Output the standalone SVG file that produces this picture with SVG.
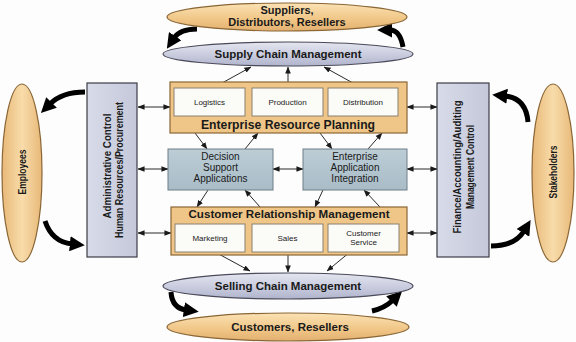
<svg xmlns="http://www.w3.org/2000/svg" width="576" height="342" viewBox="0 0 576 342">
<defs>
<style>
.t{font-family:"Liberation Sans",Arial,sans-serif;fill:#1a1a1a}
.b{font-weight:bold}
.ln{stroke:#2a2a2a;stroke-width:1;fill:none}
.big{stroke:#000;stroke-width:5;fill:none}
.sub{fill:#fbfbf8;stroke:#8a8070;stroke-width:1}
.app{fill:url(#gBlue);stroke:#6f7f88;stroke-width:1}
.side{fill:url(#gSide);stroke:#3c3c48;stroke-width:1.2}
.org{fill:#efc688;stroke:#8a6636;stroke-width:1.2}
</style>
<linearGradient id="gOr" x1="0" y1="0" x2="0" y2="1">
<stop offset="0" stop-color="#fbe2b4"/><stop offset="0.6" stop-color="#f0c585"/><stop offset="1" stop-color="#e2b070"/>
</linearGradient>
<linearGradient id="gOrV" x1="0" y1="0" x2="1" y2="0">
<stop offset="0" stop-color="#e8b878"/><stop offset="0.5" stop-color="#f8dcaa"/><stop offset="1" stop-color="#e8b878"/>
</linearGradient>
<linearGradient id="gLav" x1="0" y1="0" x2="0" y2="1">
<stop offset="0" stop-color="#e4e6f0"/><stop offset="0.6" stop-color="#c6c9dc"/><stop offset="1" stop-color="#b0b4cc"/>
</linearGradient>
<linearGradient id="gBlue" x1="0" y1="0" x2="0" y2="1">
<stop offset="0" stop-color="#bccdd6"/><stop offset="1" stop-color="#a9bcc7"/>
</linearGradient>
<linearGradient id="gSide" x1="0" y1="0" x2="1" y2="0">
<stop offset="0" stop-color="#d8dbe8"/><stop offset="1" stop-color="#c4c8da"/>
</linearGradient>
<marker id="a" viewBox="0 0 8 8" refX="7.5" refY="4" markerWidth="7" markerHeight="7" markerUnits="userSpaceOnUse" orient="auto-start-reverse">
<path d="M0,0.8 L8,4 L0,7.2 z" fill="#1a1a1a"/>
</marker>
<marker id="A" viewBox="0 0 14 14" refX="2" refY="7" markerWidth="15" markerHeight="15" markerUnits="userSpaceOnUse" orient="auto">
<path d="M0,0 L14,7 L0,14 z" fill="#000"/>
</marker>
</defs>
<rect width="576" height="342" fill="#fdfdfd"/>

<g id="connectors">
<line class="ln" x1="213" y1="88" x2="251" y2="67" marker-end="url(#a)"/>
<line class="ln" x1="288" y1="88" x2="288" y2="67" marker-end="url(#a)"/>
<line class="ln" x1="362" y1="88" x2="324" y2="67" marker-end="url(#a)"/>
<line class="ln" x1="195" y1="133" x2="207" y2="149" marker-end="url(#a)"/>
<line class="ln" x1="245" y1="149" x2="258" y2="133" marker-end="url(#a)"/>
<line class="ln" x1="320" y1="133" x2="332" y2="149" marker-end="url(#a)"/>
<line class="ln" x1="368" y1="149" x2="382" y2="133" marker-end="url(#a)"/>
<line class="ln" x1="208" y1="190" x2="197" y2="207" marker-end="url(#a)"/>
<line class="ln" x1="260" y1="207" x2="245" y2="190" marker-end="url(#a)"/>
<line class="ln" x1="323" y1="190" x2="315" y2="207" marker-end="url(#a)"/>
<line class="ln" x1="380" y1="207" x2="364" y2="190" marker-end="url(#a)"/>
<line class="ln" x1="215" y1="252" x2="250" y2="271" marker-end="url(#a)"/>
<line class="ln" x1="288" y1="252" x2="288" y2="272" marker-end="url(#a)"/>
<line class="ln" x1="350" y1="252" x2="327" y2="271" marker-end="url(#a)"/>
<line class="ln" x1="138" y1="107" x2="170" y2="107" marker-start="url(#a)" marker-end="url(#a)"/>
<line class="ln" x1="407" y1="107" x2="437" y2="107" marker-start="url(#a)" marker-end="url(#a)"/>
<line class="ln" x1="138" y1="169" x2="168" y2="169" marker-start="url(#a)" marker-end="url(#a)"/>
<line class="ln" x1="273" y1="169" x2="303" y2="169" marker-start="url(#a)" marker-end="url(#a)"/>
<line class="ln" x1="407" y1="169" x2="437" y2="169" marker-start="url(#a)" marker-end="url(#a)"/>
<line class="ln" x1="138" y1="233" x2="171" y2="233" marker-start="url(#a)" marker-end="url(#a)"/>
<line class="ln" x1="407" y1="233" x2="437" y2="233" marker-start="url(#a)" marker-end="url(#a)"/>
<path class="big" d="M197,29 Q180,29 174,38" marker-end="url(#A)"/>
<path class="big" d="M403,47 Q400,30 390,30" marker-end="url(#A)"/>
<path class="big" d="M85,92 Q62,92 50,104" marker-end="url(#A)"/>
<path class="big" d="M45,221 Q52,242 72,244" marker-end="url(#A)"/>
<path class="big" d="M528,122 Q526,98 505,96" marker-end="url(#A)"/>
<path class="big" d="M491,246 Q515,246 524,231" marker-end="url(#A)"/>
<path class="big" d="M171,292 Q172,308 186,310" marker-end="url(#A)"/>
<path class="big" d="M372,311 Q385,308 393,300" marker-end="url(#A)"/>
</g>

<g id="suppliers">
<ellipse cx="287" cy="17" rx="120" ry="14" fill="url(#gOr)" stroke="#8a6636" stroke-width="1.2"/>
<text class="t b" x="287" y="14" font-size="11" text-anchor="middle">Suppliers,</text>
<text class="t b" x="287" y="25.5" font-size="11" text-anchor="middle">Distributors, Resellers</text>
</g>

<g id="supply-chain">
<ellipse cx="288" cy="54" rx="125" ry="12" fill="url(#gLav)" stroke="#4a4a5a" stroke-width="1.2"/>
<text class="t b" x="288" y="58" font-size="11.5" text-anchor="middle">Supply Chain Management</text>
</g>

<g id="erp">
<rect class="org" x="170" y="82" width="237" height="51"/>
<rect class="sub" x="174" y="88" width="71" height="28"/>
<rect class="sub" x="252" y="88" width="71" height="28"/>
<rect class="sub" x="328" y="88" width="70" height="28"/>
<text class="t" x="209.5" y="104.5" font-size="8" text-anchor="middle">Logistics</text>
<text class="t" x="287.5" y="104.5" font-size="8" text-anchor="middle">Production</text>
<text class="t" x="363" y="104.5" font-size="8" text-anchor="middle">Distribution</text>
<text class="t b" x="288" y="129" font-size="12.2" text-anchor="middle">Enterprise Resource Planning</text>
</g>

<g id="dsa">
<rect class="app" x="168" y="149" width="105" height="41"/>
<text class="t" x="220.5" y="160" font-size="10" text-anchor="middle">Decision</text>
<text class="t" x="220.5" y="171" font-size="10" text-anchor="middle">Support</text>
<text class="t" x="220.5" y="182" font-size="10" text-anchor="middle">Applications</text>
</g>

<g id="eai">
<rect class="app" x="303" y="149" width="104" height="41"/>
<text class="t" x="355" y="160" font-size="10" text-anchor="middle">Enterprise</text>
<text class="t" x="355" y="171" font-size="10" text-anchor="middle">Application</text>
<text class="t" x="355" y="182" font-size="10" text-anchor="middle">Integration</text>
</g>

<g id="crm">
<rect class="org" x="171" y="207" width="236" height="48"/>
<text class="t b" x="289" y="218" font-size="11.6" text-anchor="middle">Customer Relationship Management</text>
<rect class="sub" x="175" y="224" width="70" height="28"/>
<rect class="sub" x="252" y="224" width="71" height="28"/>
<rect class="sub" x="328" y="224" width="71" height="28"/>
<text class="t" x="210" y="240.5" font-size="8" text-anchor="middle">Marketing</text>
<text class="t" x="287.5" y="240.5" font-size="8" text-anchor="middle">Sales</text>
<text class="t" x="363.5" y="236" font-size="8" text-anchor="middle">Customer</text>
<text class="t" x="363.5" y="245" font-size="8" text-anchor="middle">Service</text>
</g>

<g id="selling-chain">
<ellipse cx="288" cy="286" rx="125" ry="13" fill="url(#gLav)" stroke="#4a4a5a" stroke-width="1.2"/>
<text class="t b" x="288" y="290" font-size="11.5" text-anchor="middle">Selling Chain Management</text>
</g>

<g id="customers">
<ellipse cx="288" cy="327" rx="121" ry="14" fill="url(#gOr)" stroke="#8a6636" stroke-width="1.2"/>
<text class="t b" x="290" y="331" font-size="11.5" text-anchor="middle">Customers, Resellers</text>
</g>

<g id="employees">
<ellipse cx="22" cy="173" rx="20" ry="89" fill="url(#gOrV)" stroke="#8a6636" stroke-width="1.2"/>
<text class="t b" transform="translate(26,172) rotate(-90)" font-size="10.5" text-anchor="middle" textLength="45" lengthAdjust="spacingAndGlyphs">Employees</text>
</g>

<g id="admin">
<rect class="side" x="87" y="83" width="50" height="174"/>
<text class="t b" transform="translate(110.5,166) rotate(-90)" font-size="11" text-anchor="middle" textLength="105" lengthAdjust="spacingAndGlyphs">Administrative Control</text>
<text class="t b" transform="translate(123,170) rotate(-90)" font-size="11" text-anchor="middle" textLength="136" lengthAdjust="spacingAndGlyphs">Human Resources/Procurement</text>
</g>

<g id="finance">
<rect class="side" x="437" y="83" width="52" height="174"/>
<text class="t b" transform="translate(460.5,167) rotate(-90)" font-size="11" text-anchor="middle" textLength="133" lengthAdjust="spacingAndGlyphs">Finance/Accounting/Auditing</text>
<text class="t b" transform="translate(474,167) rotate(-90)" font-size="11" text-anchor="middle" textLength="84" lengthAdjust="spacingAndGlyphs">Management Control</text>
</g>

<g id="stakeholders">
<ellipse cx="553" cy="173" rx="21" ry="89" fill="url(#gOrV)" stroke="#8a6636" stroke-width="1.2"/>
<text class="t b" transform="translate(557,172) rotate(-90)" font-size="10.5" text-anchor="middle" textLength="53" lengthAdjust="spacingAndGlyphs">Stakeholders</text>
</g>
</svg>
